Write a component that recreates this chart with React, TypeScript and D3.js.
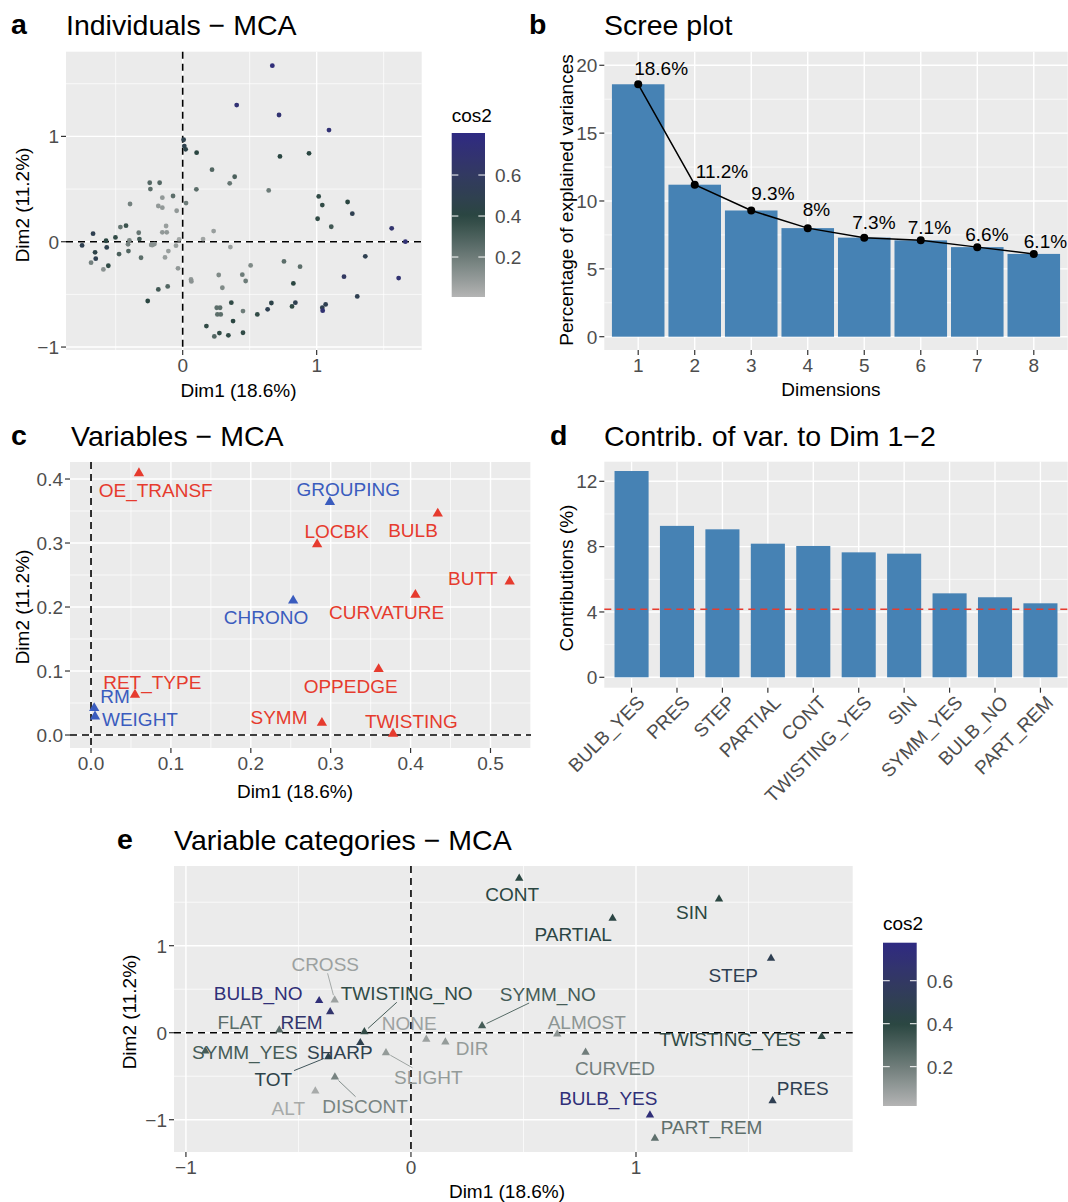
import * as d3 from "d3";

const FONT = "'Liberation Sans', Arial, Helvetica, sans-serif";
const BG = "#EBEBEB";
const TICK_TEXT = "#4D4D4D";
const FS = 19;

// ---------- a: individuals ----------
const indX = [
  0.669, 0.403, 0.719, 1.092, 0.007, 0.012, 0.022, 0.104, 0.726, 0.943,
  0.219, 0.388, 0.351, 0.642, 0.102, -0.246, -0.172, -0.241, -0.152, -0.072,
  0.025, -0.393, -0.182, -0.152, -0.045, 1.015, 1.042, 1.231, 1.266, 1.007,
  1.109, 1.56, 1.662, -0.669, -0.751, -0.654, -0.649, -0.684, -0.592, -0.555,
  -0.572, -0.567, -0.502, -0.465, -0.423, -0.398, -0.408, -0.475, -0.405, -0.328,
  -0.323, -0.311, -0.226, -0.211, -0.152, -0.119, -0.124, -0.107, -0.132, -0.05,
  -0.027, -0.035, 0.152, 0.231, 0.356, -0.261, -0.182, -0.112, 0.062, 0.065,
  0.269, 0.296, 0.445, 0.47, 0.507, 0.756, 0.876, 0.826, 0.363, 0.254,
  0.279, 0.259, 0.284, 0.45, 0.376, 0.177, 0.236, 0.274, 0.341, 0.45,
  0.557, 0.634, 0.662, 0.816, 0.841, 1.042, 1.045, 1.067, 1.204, 1.303,
  1.363, 1.612, -0.235,
];
const indY = [
  1.671, 1.297, 1.203, 1.06, 0.968, 0.908, 0.877, 0.845, 0.81, 0.839,
  0.684, 0.617, 0.554, 0.487, 0.497, 0.56, 0.56, 0.5, 0.418, 0.434,
  0.367, 0.358, 0.339, 0.323, 0.294, 0.43, 0.348, 0.377, 0.266, 0.218,
  0.142, 0.127, 0.0, 0.076, -0.035, -0.101, -0.161, -0.199, -0.263, -0.228,
  0.009, -0.054, 0.041, 0.139, 0.152, 0.013, -0.025, -0.117, -0.089, 0.085,
  0.025, -0.152, -0.032, -0.022, 0.089, 0.089, 0.149, -0.089, -0.149, -0.038,
  0.022, -0.253, 0.025, 0.101, -0.051, -0.563, -0.453, -0.424, -0.358, -0.377,
  -0.316, -0.437, -0.313, -0.373, -0.225, -0.187, -0.237, -0.396, -0.579, -0.627,
  -0.627, -0.69, -0.69, -0.658, -0.753, -0.801, -0.899, -0.867, -0.889, -0.864,
  -0.69, -0.642, -0.582, -0.614, -0.579, -0.627, -0.655, -0.595, -0.332, -0.519,
  -0.139, -0.345, -0.03,
];
const indCos2 = [
  0.75, 0.72, 0.7, 0.72, 0.48, 0.48, 0.45, 0.4, 0.4, 0.4,
  0.28, 0.3, 0.22, 0.2, 0.25, 0.27, 0.27, 0.25, 0.1, 0.25,
  0.2, 0.18, 0.1, 0.1, 0.1, 0.38, 0.38, 0.4, 0.5, 0.38,
  0.33, 0.68, 0.72, 0.5, 0.5, 0.45, 0.5, 0.18, 0.12, 0.38,
  0.4, 0.48, 0.38, 0.22, 0.35, 0.15, 0.18, 0.3, 0.28, 0.22,
  0.32, 0.25, 0.12, 0.12, 0.1, 0.1, 0.08, 0.08, 0.08, 0.08,
  0.05, 0.1, 0.06, 0.08, 0.08, 0.4, 0.33, 0.28, 0.1, 0.12,
  0.15, 0.15, 0.2, 0.2, 0.15, 0.25, 0.25, 0.4, 0.38, 0.25,
  0.25, 0.25, 0.25, 0.2, 0.4, 0.38, 0.28, 0.38, 0.38, 0.38,
  0.38, 0.5, 0.45, 0.38, 0.5, 0.5, 0.7, 0.5, 0.6, 0.5,
  0.5, 0.7, 0.12,
];

// ---------- b: scree ----------
const screeDims = ["1", "2", "3", "4", "5", "6", "7", "8"];
const screeValues = [18.6, 11.2, 9.3, 8.0, 7.3, 7.1, 6.6, 6.1];
const screeLabels = ["18.6%", "11.2%", "9.3%", "8%", "7.3%", "7.1%", "6.6%", "6.1%"];
// label offsets (px) from each point, as placed in the reference
const screeLabelDx = [-4, 1, 0, -5, -12, -13, -12, -10];
const screeLabelDy = [-9, -7, -10, -12, -9, -6, -6, -6];

// ---------- c: variables ----------
const varNames = ["OE_TRANSF", "GROUPING", "BULB", "LOCBK", "BUTT", "CURVATURE", "CHRONO", "OPPEDGE", "RET_TYPE", "RM", "WEIGHT", "SYMM", "TWISTING"];
const varDim1 = [0.06, 0.299, 0.434, 0.283, 0.524, 0.406, 0.253, 0.36, 0.055, 0.004, 0.005, 0.289, 0.378];
const varDim2 = [0.409, 0.364, 0.346, 0.298, 0.24, 0.219, 0.21, 0.103, 0.063, 0.042, 0.029, 0.019, 0.002];
const varGroup = ["A", "B", "A", "A", "A", "A", "B", "A", "A", "B", "B", "A", "A"];
const varLabelX = [0.081, 0.322, 0.403, 0.3075, 0.478, 0.37, 0.219, 0.325, 0.0767, 0.03, 0.0613, 0.2353, 0.401];
const varLabelY = [0.383, 0.384, 0.32, 0.319, 0.245, 0.192, 0.184, 0.076, 0.0823, 0.06, 0.0245, 0.0286, 0.0214];

// ---------- d: contributions ----------
const contribNames = ["BULB_YES", "PRES", "STEP", "PARTIAL", "CONT", "TWISTING_YES", "SIN", "SYMM_YES", "BULB_NO", "PART_REM"];
const contribValues = [12.63, 9.27, 9.06, 8.18, 8.04, 7.65, 7.57, 5.14, 4.9, 4.53];
const contribExpected = 100 / 24;

// ---------- e: categories ----------
const catNames = ["CONT", "PARTIAL", "SIN", "STEP", "SYMM_NO", "ALMOST", "TWISTING_YES", "CURVED", "BULB_YES", "PRES", "PART_REM", "CROSS", "BULB_NO", "TWISTING_NO", "FLAT", "REM", "NONE", "DIR", "SYMM_YES", "SHARP", "TOT", "SLIGHT", "ALT", "DISCONT"];
const catDim1 = [0.481, 0.896, 1.369, 1.6, 0.316, 0.65, 1.825, 0.776, 1.062, 1.607, 1.084, -0.339, -0.408, -0.207, -0.585, -0.359, 0.068, 0.153, -0.914, -0.225, -0.367, -0.111, -0.425, -0.338];
const catDim2 = [1.775, 1.315, 1.537, 0.855, 0.08, -0.015, -0.046, -0.225, -0.946, -0.782, -1.214, 0.376, 0.368, 0.011, 0.031, 0.241, -0.076, -0.107, -0.21, -0.115, -0.276, -0.23, -0.67, -0.51];
const catCos2 = [0.4, 0.42, 0.4, 0.5, 0.32, 0.12, 0.38, 0.2, 0.72, 0.5, 0.25, 0.08, 0.72, 0.38, 0.26, 0.65, 0.08, 0.1, 0.32, 0.48, 0.45, 0.1, 0.05, 0.18];
const catLabelX = [0.45, 0.721, 1.248, 1.432, 0.608, 0.781, 1.418, 0.907, 0.877, 1.741, 1.336, -0.381, -0.679, -0.019, -0.76, -0.486, -0.0076, 0.272, -0.738, -0.316, -0.612, 0.077, -0.545, -0.204];
const catLabelY = [1.591, 1.134, 1.391, 0.663, 0.445, 0.12, -0.072, -0.409, -0.754, -0.639, -1.08, 0.786, 0.453, 0.453, 0.12, 0.12, 0.115, -0.172, -0.218, -0.218, -0.532, -0.506, -0.869, -0.839];
const catSegment = [false, false, false, false, true, false, false, false, false, false, false, true, false, true, false, false, false, false, false, false, true, true, false, true];

const cos2Ticks = [0.2, 0.4, 0.6];

type Box = { l: number; r: number; t: number; b: number };

let measureCtx: CanvasRenderingContext2D | null = null;
function textWidth(s: string) {
  if (!measureCtx) {
    const c = document.createElement("canvas");
    measureCtx = c.getContext("2d");
  }
  if (!measureCtx) return s.length * FS * 0.62;
  measureCtx.font = `${FS}px 'Liberation Sans', Arial, sans-serif`;
  return measureCtx.measureText(s).width;
}

function cos2Color(domain: [number, number]) {
  return d3
    .scaleLinear<string>()
    .domain([domain[0], 0.4, domain[1]])
    .range(["#B4B4B4", "#2A4641", "#2E2A82"])
    .interpolate(d3.interpolateLab)
    .clamp(true);
}

function Grid({ box, x, y, xMajor, xMinor, yMajor, yMinor }: any) {
  return (
    <g>
      <rect x={box.l} y={box.t} width={box.r - box.l} height={box.b - box.t} fill={BG} />
      {xMinor.map((v: any, i: number) => (
        <line key={"xn" + i} x1={x(v)} x2={x(v)} y1={box.t} y2={box.b} stroke="#fff" strokeWidth={0.7} />
      ))}
      {yMinor.map((v: any, i: number) => (
        <line key={"yn" + i} y1={y(v)} y2={y(v)} x1={box.l} x2={box.r} stroke="#fff" strokeWidth={0.7} />
      ))}
      {xMajor.map((v: any, i: number) => (
        <line key={"xj" + i} x1={x(v)} x2={x(v)} y1={box.t} y2={box.b} stroke="#fff" strokeWidth={1.4} />
      ))}
      {yMajor.map((v: any, i: number) => (
        <line key={"yj" + i} y1={y(v)} y2={y(v)} x1={box.l} x2={box.r} stroke="#fff" strokeWidth={1.4} />
      ))}
    </g>
  );
}

function YAxis({ box, y, ticks, fmt }: any) {
  return (
    <g>
      {ticks.map((v: any, i: number) => (
        <g key={i}>
          <line x1={box.l - 5} x2={box.l} y1={y(v)} y2={y(v)} stroke="#333" strokeWidth={1.2} />
          <text x={box.l - 7} y={y(v)} dy="0.36em" textAnchor="end" fontSize={FS} fill={TICK_TEXT}>
            {fmt(v)}
          </text>
        </g>
      ))}
    </g>
  );
}

function XAxis({ box, x, ticks, fmt, labels = true }: any) {
  return (
    <g>
      {ticks.map((v: any, i: number) => (
        <g key={i}>
          <line x1={x(v)} x2={x(v)} y1={box.b} y2={box.b + 5} stroke="#333" strokeWidth={1.2} />
          {labels && (
            <text x={x(v)} y={box.b + 22} textAnchor="middle" fontSize={FS} fill={TICK_TEXT}>
              {fmt(v)}
            </text>
          )}
        </g>
      ))}
    </g>
  );
}

function ZeroLines({ box, x, y }: any) {
  return (
    <g stroke="#000" strokeWidth={1.6} strokeDasharray="7,5">
      <line x1={x(0)} x2={x(0)} y1={box.t} y2={box.b} />
      <line y1={y(0)} y2={y(0)} x1={box.l} x2={box.r} />
    </g>
  );
}

function ColorBar({ id, x, w, top, bottom, domain, titleY }: any) {
  const col = cos2Color(domain);
  const ys = d3.scaleLinear().domain(domain).range([bottom, top]);
  const stops = d3.range(0, 1.0001, 0.05);
  return (
    <g>
      <defs>
        <linearGradient id={id} x1="0" y1="1" x2="0" y2="0">
          {stops.map((t) => (
            <stop key={t} offset={t} stopColor={col(domain[0] + t * (domain[1] - domain[0]))} />
          ))}
        </linearGradient>
      </defs>
      <text x={x} y={titleY} fontSize={FS} fill="#000">cos2</text>
      <rect x={x} y={top} width={w} height={bottom - top} fill={`url(#${id})`} />
      {cos2Ticks.map((v) => (
        <g key={v}>
          <line x1={x} x2={x + w / 5} y1={ys(v)} y2={ys(v)} stroke="#fff" strokeWidth={1} />
          <line x1={x + w - w / 5} x2={x + w} y1={ys(v)} y2={ys(v)} stroke="#fff" strokeWidth={1} />
          <text x={x + w + 10} y={ys(v)} dy="0.36em" fontSize={FS} fill={TICK_TEXT}>
            {v.toFixed(1)}
          </text>
        </g>
      ))}
    </g>
  );
}

function Heading({ letter, lx, tx, y, title }: any) {
  return (
    <g>
      <text x={lx} y={y} fontSize={28.5} fontWeight="bold" fill="#000">{letter}</text>
      <text x={tx} y={y + 1} fontSize={28.5} fill="#000">{title}</text>
    </g>
  );
}

function AxisTitleY({ x, y, text }: any) {
  return (
    <text transform={`translate(${x},${y}) rotate(-90)`} textAnchor="middle" fontSize={FS} fill="#000">
      {text}
    </text>
  );
}

const fmtSigned = (v: number) => (v < 0 ? "\u2212" + Math.abs(v) : String(v));

function PanelA() {
  const box: Box = { l: 66, r: 421.7, t: 51.7, b: 350 };
  const x = d3.scaleLinear().domain([-0.871, 1.784]).range([box.l, box.r]);
  const y = d3.scaleLinear().domain([-1.028, 1.804]).range([box.b, box.t]);
  const col = cos2Color([0.005, 0.805]);
  return (
    <g>
      <Grid box={box} x={x} y={y} xMajor={[0, 1]} xMinor={[-0.5, 0.5, 1.5]} yMajor={[-1, 0, 1]} yMinor={[-0.5, 0.5, 1.5]} />
      <ZeroLines box={box} x={x} y={y} />
      {indX.map((v, i) => (
        <circle key={i} cx={x(v)} cy={y(indY[i])} r={2.4} fill={col(indCos2[i])} />
      ))}
      <YAxis box={box} y={y} ticks={[-1, 0, 1]} fmt={fmtSigned} />
      <XAxis box={box} x={x} ticks={[0, 1]} fmt={fmtSigned} />
      <text x={238.5} y={397} textAnchor="middle" fontSize={FS}>Dim1 (18.6%)</text>
      <AxisTitleY x={29} y={205} text="Dim2 (11.2%)" />
      <ColorBar id="cbA" x={451.7} w={33.3} top={133} bottom={297} domain={[0.005, 0.805]} titleY={121.7} />
      <Heading letter="a" lx={11} tx={66} y={34} title={"Individuals \u2212 MCA"} />
    </g>
  );
}

function PanelB() {
  const box: Box = { l: 604.3, r: 1067.7, t: 51.7, b: 350 };
  const x = d3.scalePoint<string>().domain(screeDims).range([box.l, box.r]).padding(0.6);
  const y = d3.scaleLinear().domain([-0.98, 21.0]).range([box.b, box.t]);
  const bw = x.step() * 0.93;
  const line = d3
    .line<number>()
    .x((_, i) => x(screeDims[i]) as number)
    .y((d) => y(d));
  return (
    <g>
      <Grid box={box} x={x} y={y} xMajor={screeDims} xMinor={[]} yMajor={[0, 5, 10, 15, 20]} yMinor={[2.5, 7.5, 12.5, 17.5]} />
      {screeValues.map((v, i) => (
        <rect key={i} x={(x(screeDims[i]) as number) - bw / 2} y={y(v)} width={bw} height={y(0) - y(v)} fill="#4682B4" />
      ))}
      <path d={line(screeValues) || ""} fill="none" stroke="#000" strokeWidth={1.5} />
      {screeValues.map((v, i) => (
        <circle key={i} cx={x(screeDims[i])} cy={y(v)} r={4} fill="#000" />
      ))}
      {screeValues.map((v, i) => (
        <text key={i} x={(x(screeDims[i]) as number) + screeLabelDx[i]} y={y(v) + screeLabelDy[i]} fontSize={FS} fill="#000">
          {screeLabels[i]}
        </text>
      ))}
      <YAxis box={box} y={y} ticks={[0, 5, 10, 15, 20]} fmt={String} />
      <XAxis box={box} x={x} ticks={screeDims} fmt={String} />
      <text x={831} y={396} textAnchor="middle" fontSize={FS}>Dimensions</text>
      <AxisTitleY x={573} y={200} text="Percentage of explained variances" />
      <Heading letter="b" lx={529} tx={604} y={34} title="Scree plot" />
    </g>
  );
}

function PanelC() {
  const box: Box = { l: 70, r: 531, t: 462, b: 748 };
  const x = d3.scaleLinear().domain([-0.0263, 0.5507]).range([box.l, box.r]);
  const y = d3.scaleLinear().domain([-0.0203, 0.4266]).range([box.b, box.t]);
  const groupColor: Record<string, string> = { A: "#E63B2E", B: "#3A5CBE" };
  const tri = d3.symbol(d3.symbolTriangle, 46)();
  return (
    <g>
      <Grid
        box={box} x={x} y={y}
        xMajor={[0, 0.1, 0.2, 0.3, 0.4, 0.5]} xMinor={[0.05, 0.15, 0.25, 0.35, 0.45, 0.55]}
        yMajor={[0, 0.1, 0.2, 0.3, 0.4]} yMinor={[0.05, 0.15, 0.25, 0.35]}
      />
      <ZeroLines box={box} x={x} y={y} />
      {varNames.map((n, i) => (
        <path key={n} d={tri || ""} transform={`translate(${x(varDim1[i])},${y(varDim2[i])})`} fill={groupColor[varGroup[i]]} />
      ))}
      {varNames.map((n, i) => (
        <text key={n} x={x(varLabelX[i])} y={y(varLabelY[i])} dy="0.36em" textAnchor="middle" fontSize={FS} fill={groupColor[varGroup[i]]}>
          {n}
        </text>
      ))}
      <YAxis box={box} y={y} ticks={[0, 0.1, 0.2, 0.3, 0.4]} fmt={(v: number) => v.toFixed(1)} />
      <XAxis box={box} x={x} ticks={[0, 0.1, 0.2, 0.3, 0.4, 0.5]} fmt={(v: number) => v.toFixed(1)} />
      <text x={295} y={798} textAnchor="middle" fontSize={FS}>Dim1 (18.6%)</text>
      <AxisTitleY x={29} y={607} text="Dim2 (11.2%)" />
      <Heading letter="c" lx={11} tx={71} y={445} title={"Variables \u2212 MCA"} />
    </g>
  );
}

function PanelD() {
  const box: Box = { l: 604.3, r: 1067.7, t: 461.7, b: 687.7 };
  const x = d3.scalePoint<string>().domain(contribNames).range([box.l, box.r]).padding(0.6);
  const y = d3.scaleLinear().domain([-0.637, 13.2]).range([box.b, box.t]);
  const bw = x.step() * 0.75;
  return (
    <g>
      <Grid box={box} x={x} y={y} xMajor={contribNames} xMinor={[]} yMajor={[0, 4, 8, 12]} yMinor={[2, 6, 10]} />
      {contribValues.map((v, i) => (
        <rect key={i} x={(x(contribNames[i]) as number) - bw / 2} y={y(v)} width={bw} height={y(0) - y(v)} fill="#4682B4" />
      ))}
      <line x1={box.l} x2={box.r} y1={y(contribExpected)} y2={y(contribExpected)} stroke="#E63B2E" strokeWidth={1.6} strokeDasharray="7,5" />
      <YAxis box={box} y={y} ticks={[0, 4, 8, 12]} fmt={String} />
      <XAxis box={box} x={x} ticks={contribNames} fmt={String} labels={false} />
      {contribNames.map((n) => (
        <text
          key={n}
          transform={`translate(${(x(n) as number) + 4},${box.b + 6}) rotate(-45)`}
          dy="0.75em"
          textAnchor="end"
          fontSize={FS}
          fill={TICK_TEXT}
        >
          {n}
        </text>
      ))}
      <AxisTitleY x={573} y={578} text="Contributions (%)" />
      <Heading letter="d" lx={550} tx={604} y={445} title={"Contrib. of var. to Dim 1\u22122"} />
    </g>
  );
}

function PanelE() {
  const box: Box = { l: 174, r: 852.7, t: 866, b: 1152 };
  const x = d3.scaleLinear().domain([-1.053, 1.963]).range([box.l, box.r]);
  const y = d3.scaleLinear().domain([-1.371, 1.916]).range([box.b, box.t]);
  const col = cos2Color([0.017, 0.777]);
  const tri = d3.symbol(d3.symbolTriangle, 30)();
  const segs = catNames.map((n, i) => {
    if (!catSegment[i]) return null;
    const lx = x(catLabelX[i]);
    const ly = y(catLabelY[i]);
    const px = x(catDim1[i]);
    const py = y(catDim2[i]);
    const hw = textWidth(n) / 2 + 2;
    const hh = 9;
    const dx = px - lx;
    const dy = py - ly;
    const t = Math.min(dx !== 0 ? hw / Math.abs(dx) : Infinity, dy !== 0 ? hh / Math.abs(dy) : Infinity);
    const len = Math.hypot(dx, dy);
    const te = 1 - 5 / len;
    return { x1: lx + dx * t, y1: ly + dy * t, x2: lx + dx * te, y2: ly + dy * te, c: col(catCos2[i]) };
  });
  return (
    <g>
      <Grid box={box} x={x} y={y} xMajor={[-1, 0, 1]} xMinor={[-0.5, 0.5, 1.5]} yMajor={[-1, 0, 1]} yMinor={[-0.5, 0.5, 1.5]} />
      <ZeroLines box={box} x={x} y={y} />
      {segs.map((s, i) =>
        s ? <line key={i} x1={s.x1} y1={s.y1} x2={s.x2} y2={s.y2} stroke={s.c} strokeWidth={0.9} /> : null
      )}
      {catNames.map((n, i) => (
        <path key={n} d={tri || ""} transform={`translate(${x(catDim1[i])},${y(catDim2[i])})`} fill={col(catCos2[i])} />
      ))}
      {catNames.map((n, i) => (
        <text key={n} x={x(catLabelX[i])} y={y(catLabelY[i])} dy="0.36em" textAnchor="middle" fontSize={FS} fill={col(catCos2[i])}>
          {n}
        </text>
      ))}
      <YAxis box={box} y={y} ticks={[-1, 0, 1]} fmt={fmtSigned} />
      <XAxis box={box} x={x} ticks={[-1, 0, 1]} fmt={fmtSigned} />
      <text x={507} y={1198} textAnchor="middle" fontSize={FS}>Dim1 (18.6%)</text>
      <AxisTitleY x={136} y={1012} text="Dim2 (11.2%)" />
      <ColorBar id="cbE" x={883} w={33.7} top={942.7} bottom={1106} domain={[0.017, 0.777]} titleY={930} />
      <Heading letter="e" lx={117} tx={174} y={849} title={"Variable categories \u2212 MCA"} />
    </g>
  );
}

export default function App() {
  return (
    <svg
      width={1068}
      height={1202}
      style={{ position: "absolute", left: 0, top: 0, background: "#fff" }}
      fontFamily={FONT}
    >
      <rect width={1068} height={1202} fill="#fff" />
      <PanelA />
      <PanelB />
      <PanelC />
      <PanelD />
      <PanelE />
    </svg>
  );
}
